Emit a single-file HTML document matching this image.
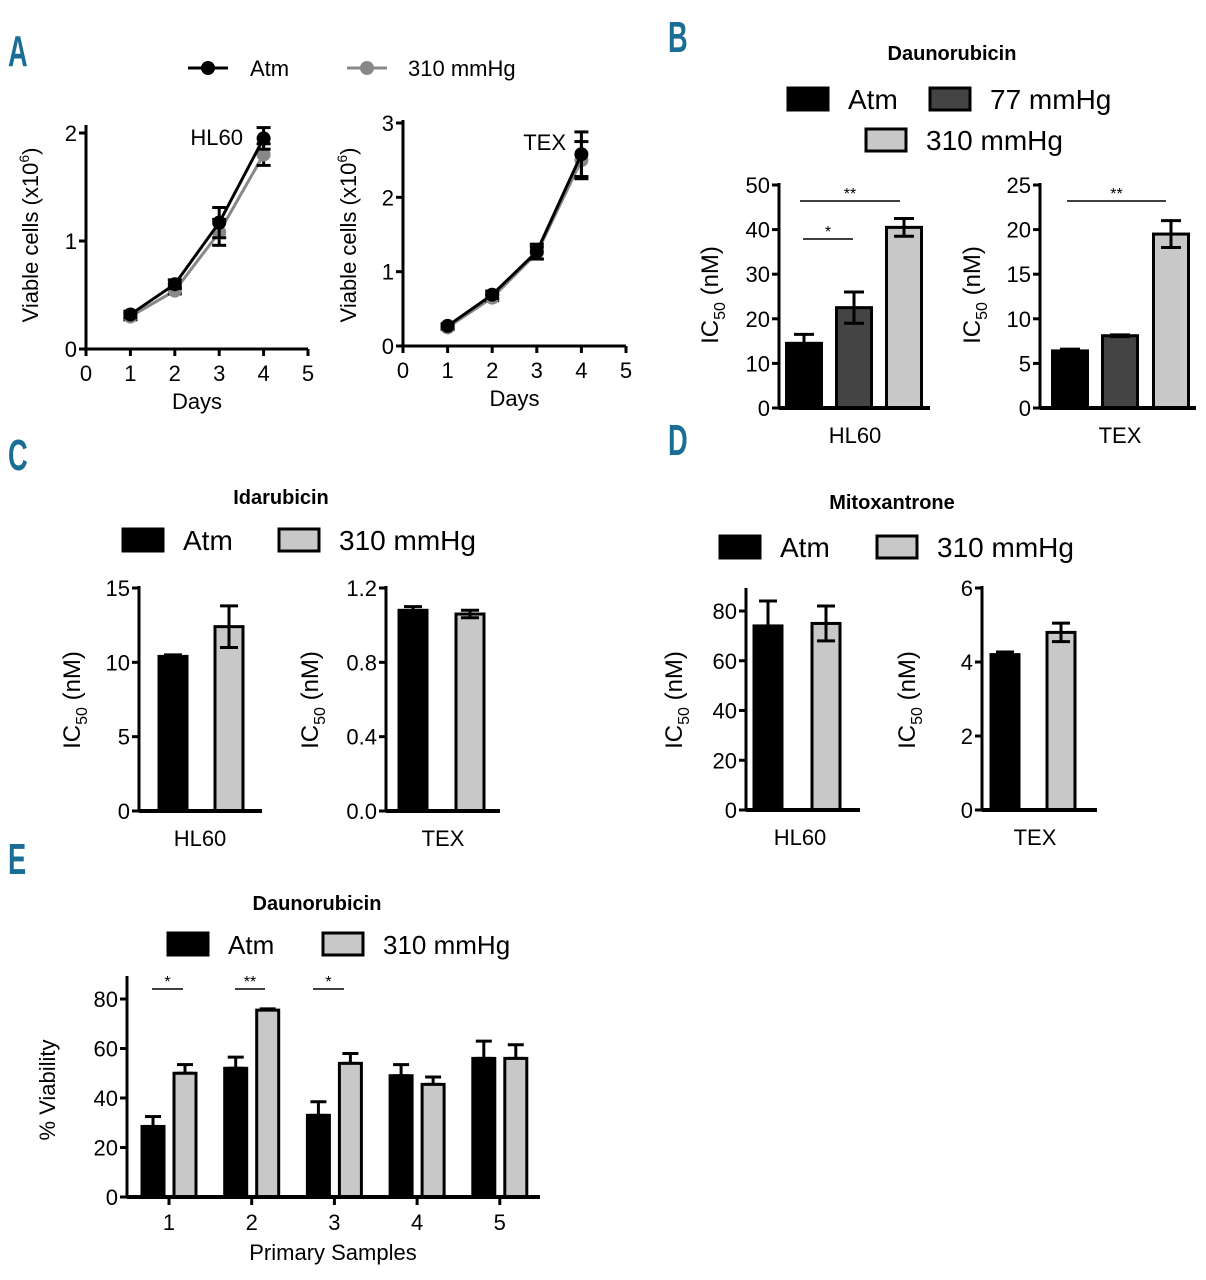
<!DOCTYPE html>
<html><head><meta charset="utf-8"><style>
html,body{margin:0;padding:0;background:#fff;}
svg{display:block;font-family:"Liberation Sans",sans-serif;}
</style></head><body>
<svg id="fig" width="1206" height="1280" viewBox="0 0 1206 1280"></svg>
<script>
// ---- Data ----
const daysA = [1, 2, 3, 4];
const hl60Atm = [0.32, 0.60, 1.17, 1.95];
const hl60AtmErr = [0.03, 0.04, 0.14, 0.10];
const hl60Hyp = [0.30, 0.54, 1.08, 1.80];
const hl60HypErr = [0.03, 0.03, 0.12, 0.10];
const texAtm = [0.27, 0.69, 1.27, 2.58];
const texAtmErr = [0.03, 0.05, 0.10, 0.30];
const texHyp = [0.25, 0.65, 1.25, 2.50];
const texHypErr = [0.03, 0.04, 0.08, 0.25];
const ticksA_hl60 = [0, 1, 2];
const ticksA_tex = [0, 1, 2, 3];
const ticksDays = [0, 1, 2, 3, 4, 5];

const bHl60 = [14.5, 22.5, 40.5];
const bHl60Err = [2, 3.5, 2];
const bTex = [6.4, 8.1, 19.5];
const bTexErr = [0.2, 0.1, 1.5];
const bHl60Ticks = [0, 10, 20, 30, 40, 50];
const bTexTicks = [0, 5, 10, 15, 20, 25];

const cHl60 = [10.4, 12.4];
const cHl60Err = [0.1, 1.4];
const cTex = [1.08, 1.06];
const cTexErr = [0.02, 0.02];
const cHl60Ticks = [0, 5, 10, 15];
const cTexTicks = ["0.0", "0.4", "0.8", "1.2"];

const dHl60 = [74, 75];
const dHl60Err = [10, 7];
const dTex = [4.2, 4.8];
const dTexErr = [0.07, 0.25];
const dHl60Ticks = [0, 20, 40, 60, 80];
const dTexTicks = [0, 2, 4, 6];

const eSamples = ["1", "2", "3", "4", "5"];
const eAtm = [28.5, 52, 33, 49, 56];
const eAtmErr = [4, 4.5, 5.5, 4.5, 7];
const eHyp = [50, 75.5, 54, 45.5, 56];
const eHypErr = [3.5, 0.5, 4, 3, 5.5];
const eTicks = [0, 20, 40, 60, 80];

// ---- Helpers ----
const NS = "http://www.w3.org/2000/svg";
const svg = document.getElementById("fig");
function mk(tag, attrs, parent, text) {
  const e = document.createElementNS(NS, tag);
  for (const k in attrs) e.setAttribute(k, attrs[k]);
  if (text !== undefined) e.textContent = text;
  (parent || svg).appendChild(e);
  return e;
}
function lin(d0, d1, r0, r1) { return v => r0 + (v - d0) / (d1 - d0) * (r1 - r0); }
const FILLS = { atm: "#000", mid: "#444", hyp: "#c8c8c8" };

function txt(x, y, s, size, anchor, name, weight, fill) {
  const t = mk("text", { x: x, y: y, "font-size": size, "text-anchor": anchor || "middle", "font-weight": weight || "normal", fill: fill || "#000" }, svg, s);
  
  
  return t;
}
function ytitle(x, y, name, ic) {
  const t = mk("text", { transform: "translate(" + x + "," + y + ") rotate(-90)", "font-size": ic ? 24 : 22, "text-anchor": "middle" });
  
  
  if (ic) {
    mk("tspan", {}, t, "IC");
    mk("tspan", { "font-size": 16, dy: 7 }, t, "50");
    mk("tspan", { dy: -7 }, t, " (nM)");
  } else {
    mk("tspan", {}, t, "Viable cells (x10");
    mk("tspan", { "font-size": 14, dy: -9 }, t, "6");
    mk("tspan", { dy: 9 }, t, ")");
  }
}
function yaxis(x, yTop, yBot, ticks, ys, name) {
  const g = mk("g", {});
  
  
  mk("line", { x1: x, y1: yTop, x2: x, y2: yBot, stroke: "#000", "stroke-width": 3 }, g);
  ticks.forEach(t => {
    const y = ys(parseFloat(t));
    mk("line", { x1: x - 7, y1: y, x2: x, y2: y, stroke: "#000", "stroke-width": 3 }, g);
    mk("text", { x: x - 9, y: y + 8, "font-size": 22, "text-anchor": "end" }, g, t);
  });
}
function errbar(g, x, ye, w) {
  mk("line", { x1: x, y1: ye[0], x2: x, y2: ye[1], stroke: "#000", "stroke-width": 3 }, g);
  mk("line", { x1: x - w, y1: ye[0], x2: x + w, y2: ye[0], stroke: "#000", "stroke-width": 3 }, g);
  mk("line", { x1: x - w, y1: ye[1], x2: x + w, y2: ye[1], stroke: "#000", "stroke-width": 3 }, g);
}
function legendBox(x, y, fill, label, size, name) {
  const r = mk("rect", { x: x, y: y, width: 40, height: 22, fill: fill, stroke: "#000", "stroke-width": 3 });
  
  
  txt(x + 60, y + 21, label, size, "start", name + '-label');
}
function barChart(opt) {
  const ys = lin(0, opt.ymax, opt.y0, opt.yTopVal);
  yaxis(opt.ax, opt.axTop, opt.y0, opt.ticks, ys, opt.name + "-y-axis");
  const g = mk("g", {});
  
  
  opt.values.forEach((v, i) => {
    const cx = opt.centers[i];
    const e = opt.errs[i];
    const r = mk("rect", { x: cx - opt.bw / 2, y: ys(v), width: opt.bw, height: opt.y0 - ys(v), fill: opt.fills[i], stroke: "#000", "stroke-width": 3 }, g);
    
    
    errbar(g, cx, [ys(v + e), ys(Math.max(0, v - e))], opt.capW);
  });
  const xl = mk("line", { x1: opt.ax, y1: opt.y0, x2: opt.axEnd, y2: opt.y0, stroke: "#000", "stroke-width": 4 });
  
  
  txt(opt.labelX, opt.y0 + 35, opt.label, 22, "middle", opt.name + "-x-label");
  return ys;
}
function sigLine(x1, x2, y, stars, name) {
  const g = mk("g", {});
  
  
  mk("line", { x1: x1, y1: y, x2: x2, y2: y, stroke: "#000", "stroke-width": 1.5 }, g);
  mk("text", { x: (x1 + x2) / 2, y: y - 2, "font-size": 16, "text-anchor": "middle" }, g, stars);
}
function panelLetter(x, y, s) {
  const t = txt(x, y, s, 44, "start", "panel-label-" + s.toLowerCase(), "bold", "#1a6e96");
  t.setAttribute("transform", "translate(" + x + "," + y + ") scale(0.62,1) translate(" + (-x) + "," + (-y) + ")");
}

// ---- Panel letters ----
panelLetter(8, 66, "A");
panelLetter(668, 52, "B");
panelLetter(8, 470, "C");
panelLetter(668, 455, "D");
panelLetter(8, 874, "E");

// ---- Panel A ----
function lineChart(opt) {
  const xs = lin(0, 5, opt.x0, opt.x5);
  const ys = lin(0, opt.ymax, opt.y0, opt.yTopVal);
  yaxis(opt.x0, opt.axTop, opt.y0, opt.ticks.map(String), ys, opt.name + "-y-axis");
  const xa = mk("g", {});
  
  
  mk("line", { x1: opt.x0, y1: opt.y0, x2: opt.x5, y2: opt.y0, stroke: "#000", "stroke-width": 3 }, xa);
  ticksDays.forEach(d => {
    mk("line", { x1: xs(d), y1: opt.y0, x2: xs(d), y2: opt.y0 + 7, stroke: "#000", "stroke-width": 3 }, xa);
    mk("text", { x: xs(d), y: opt.y0 + 32, "font-size": 22, "text-anchor": "middle" }, xa, d);
  });
  txt((opt.x0 + opt.x5) / 2, opt.y0 + 60, "Days", 22, "middle", opt.name + "-x-title");
  [[opt.hyp, opt.hypErr, "#888", "hyp"], [opt.atm, opt.atmErr, "#000", "atm"]].forEach(s => {
    const g = mk("g", {});
    
    
    const pts = daysA.map((d, i) => xs(d) + "," + ys(s[0][i])).join(" ");
    mk("polyline", { points: pts, fill: "none", stroke: s[2], "stroke-width": 3 }, g);
    daysA.forEach((d, i) => {
      const v = s[0][i], e = s[1][i];
      errbar(g, xs(d), [ys(v + e), ys(v - e)], 7);
      const c = mk("circle", { cx: xs(d), cy: ys(v), r: 7, fill: s[2] }, g);
      
      
    });
  });
  txt(opt.cellX, opt.cellY, opt.cell, 22, "end", opt.name + "-cell-label");
}
(function () {
  const g = mk("g", {});
  
  
  mk("line", { x1: 188, y1: 68, x2: 228, y2: 68, stroke: "#000", "stroke-width": 3 }, g);
  mk("circle", { cx: 208, cy: 68, r: 7, fill: "#000" }, g);
  mk("text", { x: 250, y: 76, "font-size": 22 }, g, "Atm");
  mk("line", { x1: 347, y1: 68, x2: 387, y2: 68, stroke: "#888", "stroke-width": 3 }, g);
  mk("circle", { cx: 367, cy: 68, r: 7, fill: "#888" }, g);
  mk("text", { x: 408, y: 76, "font-size": 22 }, g, "310 mmHg");
})();
lineChart({ name: "a-hl60", x0: 86, x5: 308, y0: 349, yTopVal: 133, ymax: 2, axTop: 125, ticks: ticksA_hl60,
  atm: hl60Atm, atmErr: hl60AtmErr, hyp: hl60Hyp, hypErr: hl60HypErr, cell: "HL60", cellX: 243, cellY: 145 });
ytitle(38, 235, "a-hl60-y-title", false);
lineChart({ name: "a-tex", x0: 403, x5: 626, y0: 346, yTopVal: 123, ymax: 3, axTop: 120, ticks: ticksA_tex,
  atm: texAtm, atmErr: texAtmErr, hyp: texHyp, hypErr: texHypErr, cell: "TEX", cellX: 566, cellY: 150 });
ytitle(356, 235, "a-tex-y-title", false);

// ---- Panel B ----
txt(952, 60, "Daunorubicin", 20, "middle", "b-title", "bold");
legendBox(788, 88, FILLS.atm, "Atm", 28, "b-legend-atm");
legendBox(930, 88, FILLS.mid, "77 mmHg", 28, "b-legend-77");
legendBox(866, 129, FILLS.hyp, "310 mmHg", 28, "b-legend-310");
barChart({ name: "b-hl60", ax: 779, axTop: 183, y0: 408, yTopVal: 185, ymax: 50, ticks: bHl60Ticks.map(String),
  values: bHl60, errs: bHl60Err, centers: [804, 854, 904], bw: 35, capW: 10, fills: [FILLS.atm, FILLS.mid, FILLS.hyp],
  axEnd: 930, label: "HL60", labelX: 855 });
ytitle(718, 295, "b-hl60-y-title", true);
sigLine(800, 900, 201, "**", "b-hl60-sig-atm-310");
sigLine(803, 853, 239, "*", "b-hl60-sig-atm-77");
barChart({ name: "b-tex", ax: 1040, axTop: 183, y0: 408, yTopVal: 185, ymax: 25, ticks: bTexTicks.map(String),
  values: bTex, errs: bTexErr, centers: [1070, 1120, 1171], bw: 35, capW: 10, fills: [FILLS.atm, FILLS.mid, FILLS.hyp],
  axEnd: 1196, label: "TEX", labelX: 1120 });
ytitle(980, 295, "b-tex-y-title", true);
sigLine(1067, 1166, 201, "**", "b-tex-sig-atm-310");

// ---- Panel C ----
txt(281, 504, "Idarubicin", 20, "middle", "c-title", "bold");
legendBox(123, 529, FILLS.atm, "Atm", 28, "c-legend-atm");
legendBox(279, 529, FILLS.hyp, "310 mmHg", 28, "c-legend-310");
barChart({ name: "c-hl60", ax: 139, axTop: 586, y0: 811, yTopVal: 588, ymax: 15, ticks: cHl60Ticks.map(String),
  values: cHl60, errs: cHl60Err, centers: [173, 229], bw: 28, capW: 9, fills: [FILLS.atm, FILLS.hyp],
  axEnd: 262, label: "HL60", labelX: 200 });
ytitle(80, 700, "c-hl60-y-title", true);
barChart({ name: "c-tex", ax: 386, axTop: 586, y0: 811, yTopVal: 588, ymax: 1.2, ticks: cTexTicks,
  values: cTex, errs: cTexErr, centers: [413, 470], bw: 28, capW: 9, fills: [FILLS.atm, FILLS.hyp],
  axEnd: 500, label: "TEX", labelX: 443 });
ytitle(318, 700, "c-tex-y-title", true);

// ---- Panel D ----
txt(892, 509, "Mitoxantrone", 20, "middle", "d-title", "bold");
legendBox(720, 536, FILLS.atm, "Atm", 28, "d-legend-atm");
legendBox(877, 536, FILLS.hyp, "310 mmHg", 28, "d-legend-310");
barChart({ name: "d-hl60", ax: 746, axTop: 588, y0: 810, yTopVal: 611, ymax: 80, ticks: dHl60Ticks.map(String),
  values: dHl60, errs: dHl60Err, centers: [768, 826], bw: 28, capW: 9, fills: [FILLS.atm, FILLS.hyp],
  axEnd: 860, label: "HL60", labelX: 800 });
ytitle(682, 700, "d-hl60-y-title", true);
barChart({ name: "d-tex", ax: 982, axTop: 586, y0: 810, yTopVal: 588, ymax: 6, ticks: dTexTicks.map(String),
  values: dTex, errs: dTexErr, centers: [1005, 1061], bw: 28, capW: 9, fills: [FILLS.atm, FILLS.hyp],
  axEnd: 1097, label: "TEX", labelX: 1035 });
ytitle(915, 700, "d-tex-y-title", true);

// ---- Panel E ----
txt(317, 910, "Daunorubicin", 20, "middle", "e-title", "bold");
legendBox(168, 933, FILLS.atm, "Atm", 26, "e-legend-atm");
legendBox(323, 933, FILLS.hyp, "310 mmHg", 26, "e-legend-310");
(function () {
  const ax = 127, y0 = 1197, axTop = 976, xEnd = 540;
  const ys = lin(0, 80, y0, 999);
  yaxis(ax, axTop, y0, eTicks.map(String), ys, "e-y-axis");
  const xc = i => 169 + i * 82.7;
  const g = mk("g", {});
  
  
  eSamples.forEach((s, i) => {
    [[eAtm, eAtmErr, FILLS.atm, -16, "atm"], [eHyp, eHypErr, FILLS.hyp, 16, "hyp"]].forEach(sr => {
      const v = sr[0][i], e = sr[1][i], cx = xc(i) + sr[3];
      errbar(g, cx, [ys(v + e), ys(v)], 8);
      const r = mk("rect", { x: cx - 11, y: ys(v), width: 22, height: y0 - ys(v), fill: sr[2], stroke: "#000", "stroke-width": 3 }, g);
      
      
    });
  });
  const xa = mk("g", {});
  
  
  mk("line", { x1: ax, y1: y0, x2: xEnd, y2: y0, stroke: "#000", "stroke-width": 4 }, xa);
  eSamples.forEach((s, i) => {
    mk("line", { x1: xc(i), y1: y0, x2: xc(i), y2: y0 + 8, stroke: "#000", "stroke-width": 3 }, xa);
    mk("text", { x: xc(i), y: y0 + 33, "font-size": 22, "text-anchor": "middle" }, xa, s);
  });
  txt(333, 1260, "Primary Samples", 22, "middle", "e-x-title");
  const yt = mk("text", { transform: "translate(55,1090) rotate(-90)", "font-size": 22, "text-anchor": "middle" }, svg, "% Viability");
  
  
  sigLine(152, 183, 989, "*", "e-sig-1");
  sigLine(235, 265, 989, "**", "e-sig-2");
  sigLine(313, 344, 989, "*", "e-sig-3");
})();
</script>
</body></html>
